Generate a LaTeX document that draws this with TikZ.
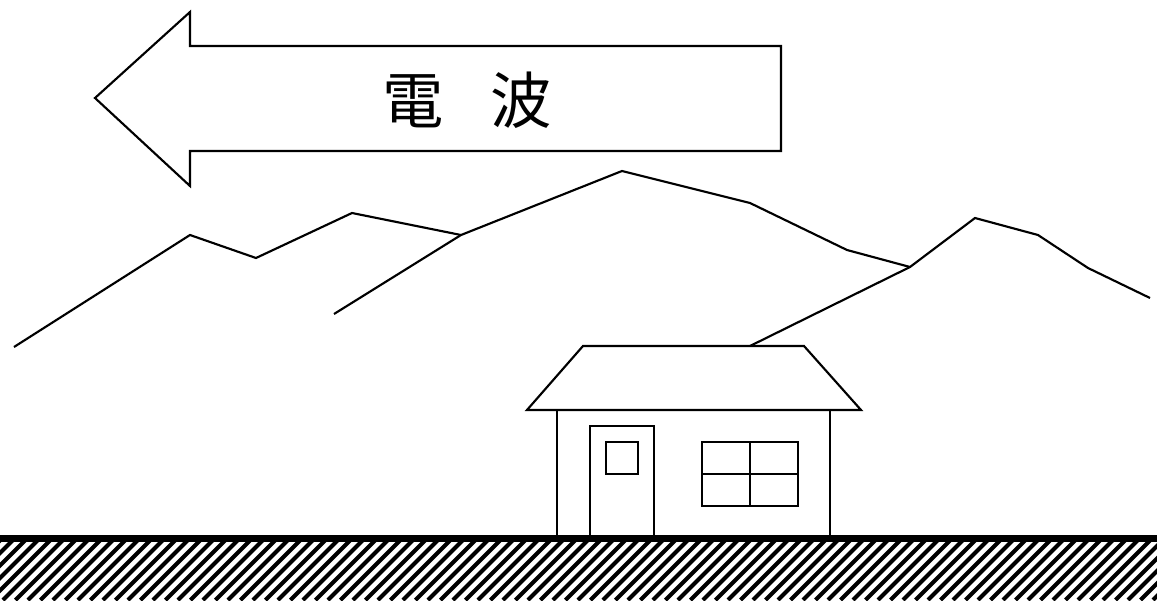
\documentclass[tikz,border=0pt]{standalone}
\usepackage{fontspec}
\newfontfamily\jpfont{Noto Sans CJK JP}
\begin{document}
\begin{tikzpicture}[x=0.75pt, y=-0.75pt, line join=miter,
    outline/.style={line width=1.6pt},
    hatch/.style={line width=3.1pt}]
    \useasboundingbox (0,0) rectangle (1157,600);

    % big arrow pointing left
    \draw [outline] (95,98) -- (190,12) -- (190,46) -- (781,46) -- (781,151)
        -- (190,151) -- (190,186) -- cycle;
    \node (wave) at (467,100) {\jpfont\fontsize{46}{46}\selectfont 電\hspace{0.75em}波};

    % hills, back to front
    \coordinate (ridgeA) at (461,235);
    \coordinate (ridgeB) at (910,267);
    \draw [outline] (14,347) -- (190,235) -- (256,258) -- (352,213) -- (ridgeA);
    \draw [outline] (334,314) -- (ridgeA) -- (622,171) -- (750,203) -- (847,250) -- (ridgeB);
    \draw [outline] (750,346) -- (ridgeB) -- (975,218) -- (1038,235) -- (1088,268) -- (1150,298);

    % house
    \draw [outline] (527,410) -- (583,346) -- (804,346) -- (861,410) -- cycle;
    \draw [outline] (557,410) -- (557,537) (830,410) -- (830,537);
    \draw [outline] (590,537) |- (654,426) -- (654,537);
    \draw [outline] (606,442) rectangle (638,474);
    \draw [outline] (702,442) rectangle (798,506);
    \draw [outline] (750,442) -- (750,506) (702,474) -- (798,474);

    % ground
    \begin{scope}
        \clip (0,540) rectangle (1157,600);
        \foreach \x in {-72,-59.5,...,1170}
            \draw [hatch] (\x,600) -- ++(64,-64);
    \end{scope}
    \draw [line width=5.2pt] (0,538.5) -- (1157,538.5);
\end{tikzpicture}
\end{document}
